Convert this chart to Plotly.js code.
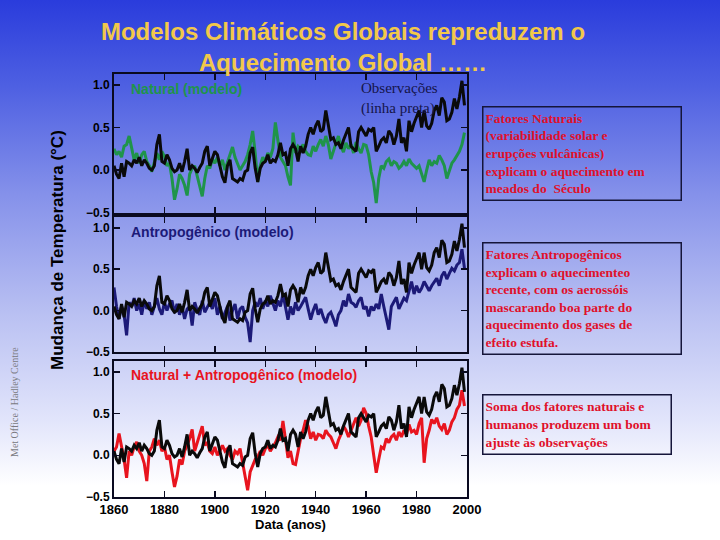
<!DOCTYPE html>
<html>
<head>
<meta charset="utf-8">
<script src="https://cdn.plot.ly/plotly-3.0.1.min.js"></script>
<style>
  html, body { margin: 0; padding: 0; }
  body { width: 720px; height: 540px; overflow: hidden;
    background: linear-gradient(to bottom, #2a3cdc 0%, #4e60e2 16%, #8591ea 36%, #b9c0f2 58%, #e2e5fb 78%, #ffffff 90%, #ffffff 100%); }
  #chart { width: 720px; height: 540px; }
</style>
</head>
<body>
<div id="chart"></div>
<script>
// ---- data ----
const firstYear = 1860;
const observations = [
  0.05,-0.05,-0.10,0.08,-0.08,0.10,0.08,0.05,0.12,0.08,
  0.15,0.05,0.12,0.08,0.02,0.00,0.05,0.30,0.42,0.10,
  0.08,0.18,0.12,0.02,-0.02,0.00,0.08,-0.02,0.10,0.25,
  0.00,0.05,0.02,-0.03,0.03,0.08,0.22,0.28,0.05,0.15,
  0.22,0.18,0.05,-0.08,-0.15,0.05,0.12,-0.10,-0.12,-0.14,
  -0.10,-0.12,-0.02,0.00,0.20,0.27,0.02,-0.14,0.02,0.08,
  0.10,0.18,0.08,0.12,0.10,0.18,0.32,0.18,0.20,0.05,
  0.25,0.30,0.25,0.10,0.28,0.20,0.28,0.42,0.50,0.42,
  0.52,0.58,0.45,0.48,0.70,0.52,0.36,0.38,0.30,0.32,
  0.25,0.35,0.42,0.50,0.28,0.25,0.22,0.45,0.50,0.45,
  0.40,0.48,0.46,0.50,0.22,0.28,0.35,0.38,0.32,0.46,
  0.42,0.30,0.40,0.60,0.32,0.38,0.22,0.58,0.45,0.55,
  0.62,0.70,0.50,0.70,0.52,0.48,0.55,0.70,0.76,0.64,
  0.85,0.80,0.58,0.60,0.68,0.84,0.72,0.86,1.05,0.76
];
const naturalModel = [
  0.25,0.18,0.22,0.15,0.28,0.30,0.40,0.25,0.12,0.20,
  0.08,0.18,0.22,0.10,0.05,-0.02,0.10,0.20,0.12,0.22,
  0.16,0.05,0.08,-0.10,-0.35,-0.22,-0.05,-0.10,-0.18,-0.30,
  -0.05,0.02,0.05,-0.08,-0.20,-0.31,-0.10,0.05,0.02,0.13,
  0.08,0.15,0.05,0.12,0.00,0.10,0.18,0.27,0.15,0.08,
  0.00,0.05,0.10,0.18,0.30,0.46,0.20,-0.14,0.05,0.15,
  0.10,0.20,0.15,0.25,0.56,0.35,0.15,0.10,0.05,-0.08,
  -0.18,0.44,0.20,0.28,0.25,0.30,0.22,0.18,0.17,0.28,
  0.22,0.30,0.36,0.28,0.40,0.30,0.13,0.22,0.30,0.40,
  0.28,0.21,0.32,0.25,0.30,0.20,0.33,0.25,0.20,0.30,
  0.29,0.18,-0.02,-0.15,-0.39,-0.10,0.05,0.02,0.10,0.13,
  0.05,0.10,0.08,0.02,0.05,0.10,0.05,0.13,0.08,0.05,
  0.02,0.05,-0.05,-0.14,0.00,0.12,0.05,0.10,0.08,0.17,
  0.12,0.05,-0.10,-0.02,0.08,0.12,0.17,0.22,0.30,0.44
];
const anthropogenicModel = [
  0.28,0.05,-0.10,0.05,-0.05,-0.30,0.10,0.05,0.15,0.00,
  0.08,-0.05,0.12,0.02,0.10,-0.05,0.05,0.15,0.02,-0.05,
  0.10,0.00,0.08,0.12,-0.03,0.08,-0.05,0.05,-0.10,0.02,
  0.05,-0.18,0.10,0.00,-0.05,0.12,-0.02,0.05,0.10,0.02,
  0.15,-0.05,0.05,-0.10,-0.02,0.05,-0.12,0.00,0.08,-0.10,
  0.02,0.05,-0.08,-0.15,-0.38,0.00,0.10,0.05,0.15,0.02,
  0.12,0.05,0.18,0.10,0.00,0.12,0.05,0.20,0.05,-0.11,
  0.05,-0.05,0.10,0.00,0.05,0.10,0.16,0.02,-0.11,0.00,
  0.08,-0.05,0.02,-0.08,-0.15,-0.05,-0.02,-0.10,-0.19,-0.05,
  0.00,0.12,0.05,0.20,0.10,0.08,0.04,0.12,0.16,0.02,
  0.05,-0.07,0.05,0.00,0.08,0.02,0.20,0.05,-0.10,-0.23,
  0.05,0.10,0.16,0.02,0.08,0.15,0.12,0.25,0.35,0.20,
  0.30,0.22,0.27,0.35,0.30,0.24,0.30,0.35,0.39,0.30,
  0.42,0.47,0.38,0.45,0.51,0.48,0.55,0.58,0.74,0.51
];
const combinedModel = [
  0.05,0.10,0.26,0.10,-0.05,-0.27,0.05,0.00,0.10,0.16,
  0.05,0.00,-0.10,-0.31,0.05,0.10,0.20,0.12,0.18,0.05,
  0.10,-0.05,0.00,-0.20,-0.38,-0.25,-0.05,-0.11,0.05,0.12,
  0.20,0.31,0.05,0.15,0.25,0.35,0.12,0.15,0.05,0.02,
  0.10,0.00,0.05,0.12,0.05,0.08,0.00,-0.05,0.05,0.02,
  0.08,-0.10,-0.25,-0.42,-0.20,-0.12,-0.05,-0.02,0.05,0.00,
  0.08,0.12,0.05,0.10,0.15,0.22,0.18,0.41,0.20,-0.03,
  0.05,-0.10,-0.11,0.05,0.20,0.30,0.42,0.35,0.20,0.28,
  0.18,0.25,0.24,0.20,0.30,0.25,0.22,0.15,0.08,0.18,
  0.25,0.35,0.30,0.22,0.30,0.38,0.45,0.35,0.42,0.57,
  0.50,0.35,0.22,0.00,-0.21,-0.05,0.10,0.08,0.20,0.15,
  0.22,0.25,0.18,0.28,0.22,0.30,0.25,0.37,0.28,0.30,
  0.25,0.38,0.45,-0.09,0.20,0.30,0.43,0.38,0.45,0.35,
  0.31,0.38,0.25,0.30,0.40,0.45,0.55,0.60,0.78,0.59
];
const xTickVals = [1860, 1880, 1900, 1920, 1940, 1960, 1980, 2000];
const yTickVals = [-0.5, 0.0, 0.5, 1.0];
const yTickText = ["\u22120.5", "0.0", "0.5", "1.0"];
const panelLabels = ["Natural (modelo)", "Antropogênico (modelo)", "Natural + Antropogênico (modelo)"];
const boxTexts = [
  "Fatores Naturais<br>(variabilidade solar e<br>erupções vulcânicas)<br>explicam o aquecimento em<br>meados do  Século",
  "Fatores Antropogênicos<br>explicam o aquecimenteo<br>recente, com os aerossóis<br>mascarando boa parte do<br>aquecimento dos gases de<br>efeito estufa.",
  "Soma dos fatores naturais e<br>humanos produzem um bom<br>ajuste às observações"
];

const years = observations.map((_, i) => firstYear + i);

// ---- styling / layout ----
const W = 720, H = 540;
const px = v => v / W;
const py = v => 1 - v / H;
const colors = { obs: "#0a0a0a", nat: "#1f944a", ant: "#1c1a78", comb: "#e8141e" };
const lw = 3;

const traces = [
  { x: years, y: naturalModel, xaxis: "x3", yaxis: "y3", mode: "lines", line: { color: colors.nat, width: lw } },
  { x: years, y: observations, xaxis: "x3", yaxis: "y3", mode: "lines", line: { color: colors.obs, width: lw } },
  { x: years, y: anthropogenicModel, xaxis: "x2", yaxis: "y2", mode: "lines", line: { color: colors.ant, width: lw } },
  { x: years, y: observations, xaxis: "x2", yaxis: "y2", mode: "lines", line: { color: colors.obs, width: lw } },
  { x: years, y: combinedModel, xaxis: "x", yaxis: "y", mode: "lines", line: { color: colors.comb, width: lw } },
  { x: years, y: observations, xaxis: "x", yaxis: "y", mode: "lines", line: { color: colors.obs, width: lw } }
];

const xDomain = [px(114), px(467)];
const tickFont = { family: "Liberation Sans, Arial, sans-serif", size: 12, color: "#000", weight: "bold" };
function xAxis(anchor, labels) {
  return {
    domain: xDomain, anchor: anchor, range: [1860, 2000],
    tickvals: xTickVals, ticks: "inside", ticklen: 6, tickwidth: 1.5, tickcolor: "#0a0a20",
    showline: true, linecolor: "#0a0a20", linewidth: 2, mirror: "ticks",
    showgrid: false, zeroline: false, showticklabels: labels, ticklabelstandoff: -1,
    tickfont: { family: "Liberation Sans, Arial, sans-serif", size: 13, color: "#000", weight: "bold" },
    title: labels ? { text: "Data (anos)", font: { family: "Liberation Sans, Arial, sans-serif", size: 13, color: "#000", weight: "bold" }, standoff: 0 } : { text: "" }
  };
}
function yAxis(anchor, domain) {
  return {
    domain: domain, anchor: anchor, range: [-0.5, 1.13],
    tickvals: yTickVals, ticktext: yTickText, ticks: "inside", ticklen: 6, tickwidth: 1.5, tickcolor: "#0a0a20",
    showline: true, linecolor: "#0a0a20", linewidth: 2, mirror: "ticks",
    showgrid: false, zeroline: false, tickfont: tickFont, ticklabelstandoff: 0
  };
}

const annFont = { family: "Liberation Sans, Arial, sans-serif", size: 14, weight: "bold" };
const serifRed = { family: "Liberation Serif, Times New Roman, serif", size: 13.5, color: "#e0102a", weight: "bold" };
const annotations = [
  { text: panelLabels[0], x: px(129), y: py(89), xref: "paper", yref: "paper", xanchor: "left", yanchor: "middle", showarrow: false, font: Object.assign({}, annFont, { color: colors.nat }) },
  { text: panelLabels[1], x: px(129), y: py(232), xref: "paper", yref: "paper", xanchor: "left", yanchor: "middle", showarrow: false, font: Object.assign({}, annFont, { color: colors.ant }) },
  { text: panelLabels[2], x: px(129), y: py(375), xref: "paper", yref: "paper", xanchor: "left", yanchor: "middle", showarrow: false, font: Object.assign({}, annFont, { color: colors.comb }) },
  { text: "Observações<br>(linha preta)", x: px(359), y: py(78), xref: "paper", yref: "paper", xanchor: "left", yanchor: "top", align: "left", showarrow: false,
    font: { family: "Liberation Serif, Times New Roman, serif", size: 15, color: "#15154a" } },
  { text: "Mudança de Temperatura (°C)", x: px(57), y: py(250), xref: "paper", yref: "paper", xanchor: "center", yanchor: "middle", textangle: -90, showarrow: false,
    font: { family: "Liberation Sans, Arial, sans-serif", size: 17, color: "#000", weight: "bold" } },
  { text: "Met Office / Hadley Centre", x: px(14), y: py(402), xref: "paper", yref: "paper", xanchor: "center", yanchor: "middle", textangle: -90, showarrow: false,
    font: { family: "Liberation Serif, Times New Roman, serif", size: 10, color: "#7a7a80" } },
  { text: boxTexts[0], x: px(482), y: py(106), xref: "paper", yref: "paper", xanchor: "left", yanchor: "top", align: "left", valign: "middle", showarrow: false,
    width: 193, height: 88, bordercolor: "#15153a", borderwidth: 1.5, borderpad: 2, font: serifRed },
  { text: boxTexts[1], x: px(482), y: py(242), xref: "paper", yref: "paper", xanchor: "left", yanchor: "top", align: "left", valign: "middle", showarrow: false,
    width: 193, height: 106, bordercolor: "#15153a", borderwidth: 1.5, borderpad: 2, font: serifRed },
  { text: boxTexts[2], x: px(482), y: py(394), xref: "paper", yref: "paper", xanchor: "left", yanchor: "top", align: "left", valign: "middle", showarrow: false,
    width: 183, height: 54, bordercolor: "#15153a", borderwidth: 1.5, borderpad: 2, font: serifRed }
];

const layout = {
  width: W, height: H,
  margin: { l: 0, r: 0, t: 0, b: 0 },
  paper_bgcolor: "rgba(0,0,0,0)", plot_bgcolor: "rgba(0,0,0,0)",
  showlegend: false,
  title: { text: "Modelos Climáticos Globais repreduzem o<br>Aquecimento Global ……", x: px(343), xanchor: "center", y: py(40), yanchor: "top",
    font: { family: "Liberation Sans, Arial, sans-serif", size: 24, color: "#f2c84a", weight: "bold" } },
  xaxis: xAxis("y", true),
  xaxis2: xAxis("y2", false),
  xaxis3: xAxis("y3", false),
  yaxis: yAxis("x", [py(497), py(361)]),
  yaxis2: yAxis("x2", [py(352), py(217)]),
  yaxis3: yAxis("x3", [py(212.5), py(74)]),
  annotations: annotations
};

Plotly.newPlot("chart", traces, layout, { displayModeBar: false, staticPlot: true });
</script>
</body>
</html>
